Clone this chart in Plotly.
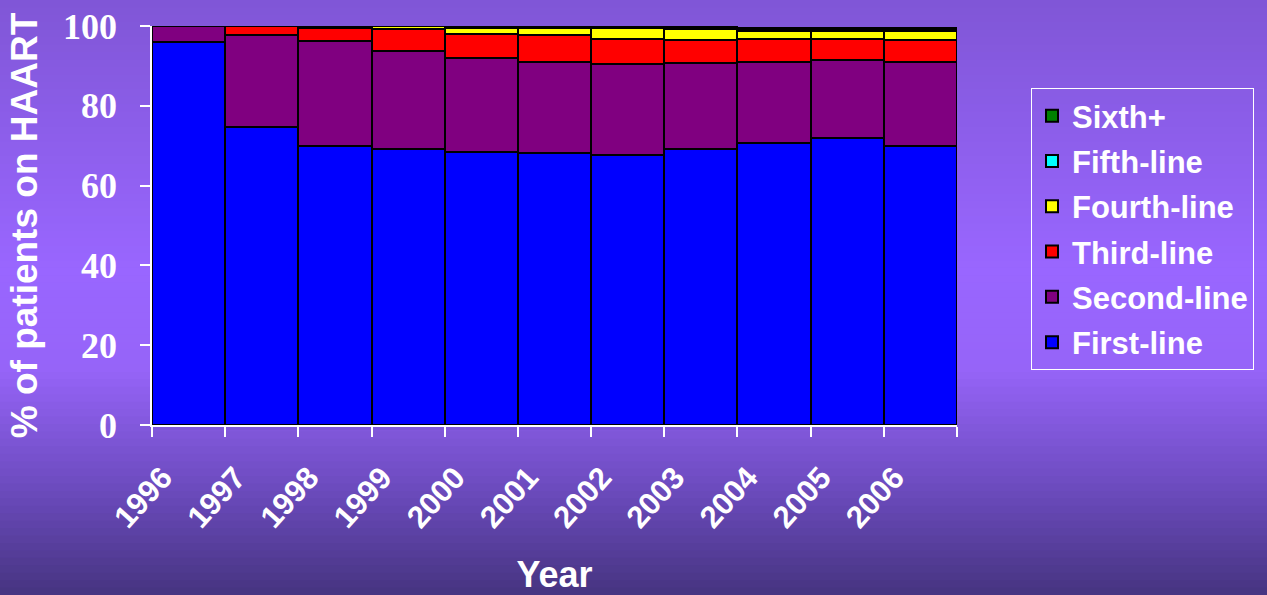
import plotly.graph_objects as go

# Share of patients on HAART by regimen line, per calendar year (%)
years = ["1996", "1997", "1998", "1999", "2000", "2001", "2002", "2003", "2004", "2005", "2006"]
first_line = [96.0, 74.6, 70.0, 69.2, 68.4, 68.2, 67.6, 69.2, 70.7, 71.9, 70.0]
second_line = [4.0, 23.1, 26.2, 24.5, 23.5, 22.9, 23.0, 21.5, 20.3, 19.5, 21.0]
third_line = [0.0, 2.2, 3.4, 5.5, 6.2, 6.6, 6.2, 5.8, 5.8, 5.4, 5.4]
fourth_line = [0.0, 0.0, 0.2, 0.7, 1.5, 1.9, 2.6, 2.7, 1.9, 1.9, 2.3]
fifth_line = [0.0, 0.0, 0.0, 0.0, 0.1, 0.1, 0.3, 0.3, 0.4, 0.4, 0.4]
sixth_plus = [0.0, 0.0, 0.0, 0.0, 0.0, 0.0, 0.3, 0.3, 0.4, 0.4, 0.4]

series = [
    ("First-line", first_line, "#0000ff"),
    ("Second-line", second_line, "#800080"),
    ("Third-line", third_line, "#ff0000"),
    ("Fourth-line", fourth_line, "#ffff00"),
    ("Fifth-line", fifth_line, "#00ffff"),
    ("Sixth+", sixth_plus, "#008000"),
]

W, H = 1267, 595
L, R, T, B = 152, 310, 26, 170
PW, PH = W - L - R, H - T - B

fig = go.Figure()
for k, (name, vals, col) in enumerate(series):
    fig.add_trace(go.Bar(
        x=years, y=vals, name=name, legendgroup=name,
        legendrank=100 - k,  # top of the stack listed first
        marker=dict(color=col, line=dict(color="black", width=2)),
    ))

# vertical purple gradient behind everything
stops = [(0.0, (128, 86, 214)), (0.45, (153, 102, 255)), (0.62, (150, 100, 248)),
         (0.82, (108, 75, 190)), (1.0, (70, 52, 128))]


def grad(t):
    for (t0, c0), (t1, c1) in zip(stops[:-1], stops[1:]):
        if t0 <= t <= t1:
            f = (t - t0) / (t1 - t0)
            return "rgb(%d,%d,%d)" % tuple(round(a + (b - a) * f) for a, b in zip(c0, c1))
    return "rgb(%d,%d,%d)" % stops[-1][1]


n = 80
shapes = []
for i in range(n):
    py0 = H * i / n
    py1 = H * (i + 1) / n + 1
    shapes.append(dict(
        type="rect", xref="paper", yref="paper", layer="below",
        x0=-L / PW - 0.01, x1=(W - L) / PW + 0.01,
        y0=(H - B - py1) / PH, y1=(H - B - py0) / PH,
        fillcolor=grad((i + 0.5) / n), line=dict(width=0),
    ))

sans = "Liberation Sans, Arial, sans-serif"
serif = "Liberation Serif, Times New Roman, serif"

fig.update_layout(
    width=W, height=H,
    margin=dict(l=L, r=R, t=T, b=B, autoexpand=False),
    barmode="stack", bargap=0,
    paper_bgcolor="#8a5ee0", plot_bgcolor="rgba(0,0,0,0)",
    shapes=shapes,
    showlegend=True,
    legend=dict(
        x=(1031 - L) / PW, y=(H - B - 88) / PH, xanchor="left", yanchor="top",
        traceorder="grouped", tracegroupgap=2, bgcolor="rgba(0,0,0,0)",
        bordercolor="white", borderwidth=1,
        font=dict(family=sans, size=31, color="white", weight="bold"),
        itemwidth=30,
    ),
    xaxis=dict(
        type="category", tickson="boundaries", ticks="outside", ticklen=10,
        tickcolor="white", tickwidth=1.5, showline=True, linecolor="white", linewidth=1.5,
        showgrid=False, tickangle=-48, ticklabelstandoff=20, ticklabelshift=-26,
        tickfont=dict(family=sans, size=31, color="white", weight="bold"),
        title=dict(text="Year", standoff=31,
                   font=dict(family=sans, size=36, color="white", weight="bold")),
        automargin=False,
    ),
    yaxis=dict(
        range=[0, 100], tickvals=[0, 20, 40, 60, 80, 100],
        ticks="outside", ticklen=10, tickcolor="white", tickwidth=1.5,
        showline=True, linecolor="white", linewidth=1.5, showgrid=False, zeroline=False,
        ticklabelstandoff=16,
        tickfont=dict(family=serif, size=36, color="white", weight="bold"),
        title=dict(text="% of patients on HAART", standoff=14,
                   font=dict(family=sans, size=37, color="white", weight="bold")),
        automargin=False,
    ),
)

fig.write_html("out.html")
